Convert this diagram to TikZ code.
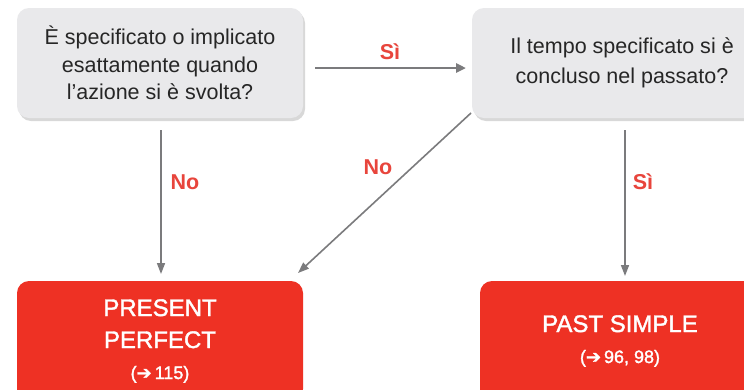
\documentclass[tikz,border=0pt]{standalone}
\usepackage{fontspec}
\setmainfont{Liberation Sans}
\newfontfamily\symfont[FakeBold=1.2]{DejaVu Sans}
\newfontfamily\medfont[FakeBold=1.6]{Liberation Sans}
\usetikzlibrary{shadows,arrows.meta}
\definecolor{qgray}{HTML}{E9E9EB}
\definecolor{ared}{HTML}{EE3124}
\definecolor{lred}{HTML}{E8453C}
\definecolor{agray}{HTML}{7B7B7D}
\newcommand{\bigtxt}{\medfont\fontsize{24}{32}\selectfont}
\newcommand{\smtxt}{\fontsize{18}{20}\selectfont}
\tikzset{
  qbox/.style={rounded corners=12pt, fill=qgray, draw=none, minimum width=286pt, minimum height=110pt, align=center, font=\fontsize{21.5}{27.5}\selectfont, text=black!85,
    drop shadow={shadow xshift=2pt, shadow yshift=-3pt, opacity=0.25, fill=black!60}},
  abox/.style={rounded corners=12pt, fill=ared, draw=none, minimum width=286pt, minimum height=120pt, align=center, text=white},
  conn/.style={draw=agray, line width=2.6pt, -{Triangle[length=10pt,width=9pt]}},
  thinarr/.style={draw=agray, line width=1.6pt, -{Triangle[length=11pt,width=8pt]}},
  lab/.style={text=lred, font=\bfseries\fontsize{21.5}{24}\selectfont},
}
\begin{document}
\begin{tikzpicture}[x=1pt,y=-1pt]
\useasboundingbox (0,0) rectangle (744,389);
\clip (0,0) rectangle (744,389);
\fill[white] (0,0) rectangle (744,389);
\node[qbox] (q1) at (160,63) {È specificato o implicato\\esattamente quando\\l’azione si è svolta?};
\node[qbox, minimum width=300pt, font=\fontsize{21.5}{30}\selectfont] (q2) at (622,63) {Il tempo specificato si è\\concluso nel passato?};
\node[abox, font=\bigtxt] (pp) at (160,341) {PRESENT\\PERFECT\\[-1pt]\smtxt ({\symfont ➔}\,115)};
\node[abox, minimum width=280pt, font=\bigtxt] (ps) at (620,341) {PAST SIMPLE\\[-1pt]\smtxt ({\symfont ➔}\,96, 98)};
\coordinate (s1) at (315,68);
\coordinate (e1) at (466,68);
\draw[conn] (s1) -- (e1);
\node[lab] (n1) at (390,52) {Sì};
\coordinate (s2) at (161,130);
\coordinate (e2) at (161,274);
\draw[thinarr] (s2) -- (e2);
\node[lab] (n2) at (185,182) {No};
\coordinate (s3) at (471,113);
\coordinate (e3) at (298,273);
\draw[thinarr] (s3) -- (e3);
\node[lab] (n3) at (378,167) {No};
\coordinate (s4) at (625,130);
\coordinate (e4) at (625,276);
\draw[thinarr] (s4) -- (e4);
\node[lab] (n4) at (643,182) {Sì};
\end{tikzpicture}
\end{document}
